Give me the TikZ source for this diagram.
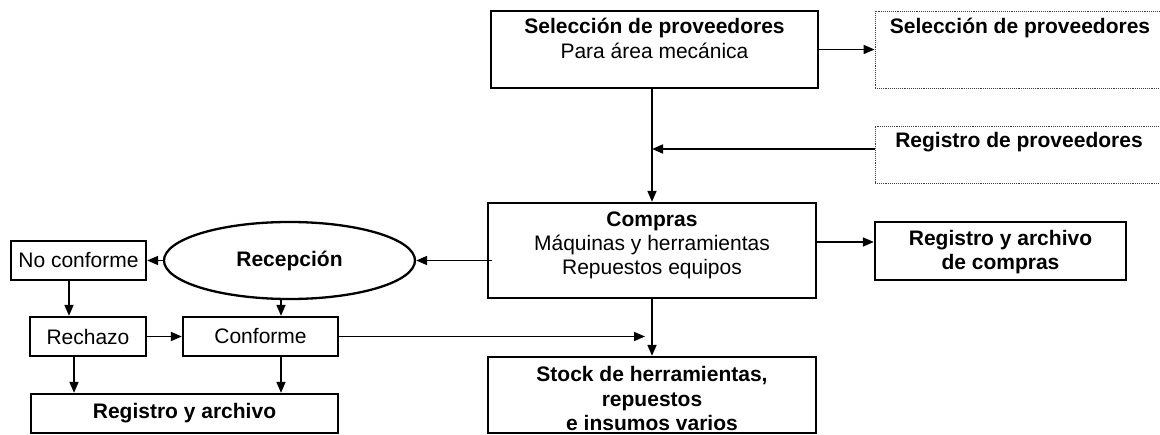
\documentclass[tikz,border=0pt]{standalone}
\usepackage{fontspec}
\setmainfont{Liberation Sans}
\usetikzlibrary{arrows.meta,shapes.geometric}
\newcommand\myfs{\fontsize{21}{25}\selectfont}
\tikzset{
  box/.style={draw, line width=2.3pt, inner sep=0pt, rectangle},
  dbox/.style={draw=black!75, densely dotted, line width=0.9pt, inner sep=0pt, rectangle},
  txt/.style={font=\myfs, inner sep=0pt},
  btxt/.style={font=\myfs\bfseries, inner sep=0pt},
  conn/.style={line width=1.7pt, -{Triangle[length=11pt,width=9pt]}},
  plain/.style={line width=1.7pt}
}
\begin{document}
\begin{tikzpicture}[x=1pt,y=-1pt]
\useasboundingbox (0,0) rectangle (1160,435);
% boxes
\node[box, minimum width=327pt, minimum height=77pt] (sel) at (654.5,49.5) {};
\node[dbox, minimum width=290pt, minimum height=77pt] (selR) at (1020,49.5) {};
\node[dbox, minimum width=290pt, minimum height=57pt] (regP) at (1020,154.5) {};
\node[box, minimum width=328pt, minimum height=95pt] (comp) at (652,250.5) {};
\node[box, minimum width=251pt, minimum height=58pt] (regC) at (1000.5,251) {};
\node[box, minimum width=328pt, minimum height=76pt] (stock) at (652,395) {};
\node[draw, ellipse, line width=2.3pt, inner sep=0pt, minimum width=251pt, minimum height=77pt, btxt] (rec) at (289.5,260.5) {Recepción};
\node[box, txt, minimum width=135pt, minimum height=39pt] (noconf) at (78.5,260.5) {No conforme};
\node[box, txt, minimum width=116pt, minimum height=39pt] (rech) at (88,336.5) {Rechazo};
\node[box, txt, minimum width=155pt, minimum height=39pt] (conf) at (260.5,336.5) {Conforme};
\node[box, btxt, minimum width=307pt, minimum height=39pt] (regA) at (184.5,413.5) {Registro y archivo};
% texts
\node[btxt, anchor=base] (sel1) at (654.5,34) {Selección de proveedores};
\node[txt, anchor=base] (sel2) at (654.5,59) {Para área mecánica};
\node[btxt, anchor=base] (selR1) at (1020,34) {Selección de proveedores};
\node[btxt, anchor=base] (regP1) at (1019,148) {Registro de proveedores};
\node[btxt, anchor=base] (comp1) at (652,227) {Compras};
\node[txt, anchor=base] (comp2) at (652,251) {Máquinas y herramientas};
\node[txt, anchor=base] (comp3) at (652,275) {Repuestos equipos};
\node[btxt, anchor=base] (regC1) at (1000.5,246) {Registro y archivo};
\node[btxt, anchor=base] (regC2) at (1000.5,270) {de compras};
\node[btxt, anchor=base] (st1) at (652,382) {Stock de herramientas,};
\node[btxt, anchor=base] (st2) at (652,407) {repuestos};
\node[btxt, anchor=base] (st3) at (652,431) {e insumos varios};
% helper coordinates
\coordinate (yA) at (0,149);
\coordinate (yB) at (0,242);
\coordinate (xA) at (281,0);
\coordinate (xB) at (69,0);
\coordinate (xC) at (74,0);
% connectors
\draw[conn] (sel.east) -- (selR.west);
\draw[conn] (comp.north |- sel.south) -- (comp.north);
\draw[conn] (regP.west |- yA) -- (comp.north |- yA);
\draw[conn] (comp.east |- yB) -- (regC.west |- yB);
\draw[conn] ([xshift=5pt]comp.west |- rec.east) -- (rec.east);
\draw[conn] (rec.west) -- (noconf.east);
\draw[conn] (noconf.south -| xB) -- (rech.north -| xB);
\draw[conn] (rec.south -| xA) -- (conf.north -| xA);
\draw[conn] (rech.east) -- (conf.west);
\draw[conn] (rech.south -| xC) -- (regA.north -| xC);
\draw[conn] (conf.south -| xA) -- (regA.north -| xA);
\draw[conn] (conf.east) -- ([xshift=-7pt]conf.east -| stock.north);
\draw[conn] (comp.south) -- (stock.north);
\end{tikzpicture}
\end{document}
